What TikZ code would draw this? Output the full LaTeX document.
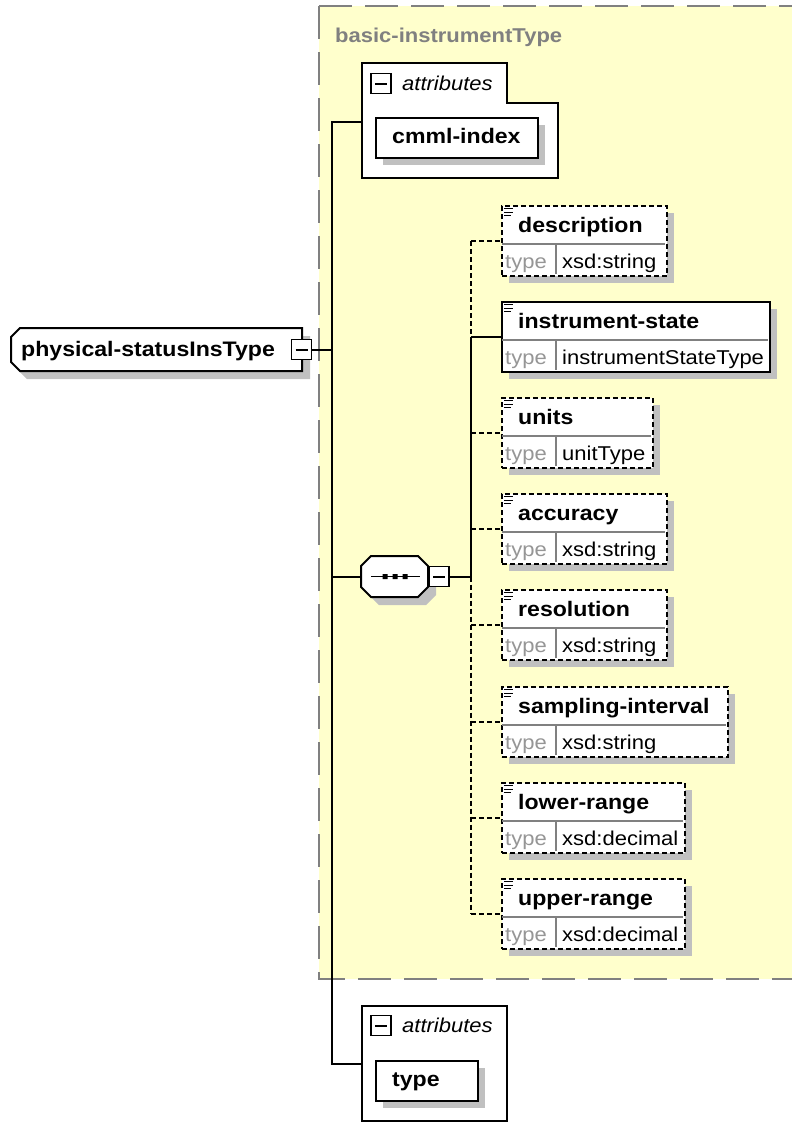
\documentclass[tikz,border=0pt]{standalone}
\usepackage{fontspec}
\setmainfont[FakeStretch=1.1]{Liberation Sans}
\usetikzlibrary{calc}
\definecolor{ylw}{RGB}{255,255,204}
\definecolor{shd}{RGB}{192,192,192}
\definecolor{dgray}{RGB}{128,128,128}
\definecolor{lgray}{RGB}{150,150,150}
\tikzset{
  box/.style={draw, line width=2pt, fill=white},
  conn/.style={line width=2pt},
  optconn/.style={line width=2pt, dash pattern=on 5pt off 3pt},
  opt/.style={dash pattern=on 5pt off 3pt},
  solidbox/.style={solid},
  nm/.style={font=\fontsize{21}{25}\selectfont\bfseries, inner sep=0, anchor=base west},
  tp/.style={font=\fontsize{20}{24}\selectfont, inner sep=0, anchor=base west},
  ttl/.style={font=\fontsize{20}{24}\selectfont\bfseries, text=dgray, inner sep=0, anchor=base west},
  attrtxt/.style={font=\fontsize{20}{24}\selectfont\itshape, inner sep=0, anchor=base west},
  expbox/.style={draw, fill=white, line width=1.8pt, minimum size=20pt, inner sep=0},
  minus/.style={line width=2pt},
}
% #1 id, #2 top y, #3 right x, #4 name, #5 type value, #6 border style
\newcommand\xelem[6]{%
  \fill[shd] (509,#2+8) rectangle (#3+8,#2+78);
  \node[box,#6,anchor=north west,minimum width=#3-501,minimum height=70,inner sep=0] (#1) at (501,#2) {};
  \draw[dgray,line width=1.4pt] (502,#2+39) -- (#3-1,#2+39) (556,#2+39) -- (556,#2+69);
  \draw[line width=0.9pt] (504,#2+3.5) -- (513,#2+3.5) (504,#2+7) -- (513,#2+7) (504,#2+10.5) -- (511,#2+10.5);
  \node[nm] (#1n) at (518,#2+27) {#4};
  \node[tp,text=lgray] (#1t) at (505,#2+63) {type};
  \node[tp] (#1v) at (562,#2+63) {#5};
}
\begin{document}
\begin{tikzpicture}[x=1pt,y=-1pt]
\useasboundingbox (0,0) rectangle (792,1122);
\fill[white] (0,0) rectangle (792,1122);
% yellow group
\fill[ylw] (319,6) rectangle (800,979);
\draw[dgray,line width=2pt,dash pattern=on 33pt off 13pt] (319,6) -- (800,6);
\draw[dgray,line width=2pt,dash pattern=on 33pt off 13pt] (319,6) -- (319,979) -- (800,979);
\node[ttl] (title) at (335,42) {basic-instrumentType};
% coordinates of trunks
\coordinate (trk) at (332,0);
\coordinate (strk) at (471,0);
\coordinate (a1) at (362,122);
\coordinate (a3) at (362,1064);
% root
\fill[shd] (27,336) -- (310,336) -- (310,379) -- (27,379) -- (19,371) -- (19,344) -- cycle;
\draw[box] (20,328) -- (302,328) -- (302,371) -- (20,371) -- (11,362) -- (11,337) -- cycle;
\node[nm] (root) at (21,356) {physical-statusInsType};
\node[expbox] (rootexp) at (301.5,349.5) {};
\draw[minus] ($(rootexp.center)+(-6,0)$) -- ($(rootexp.center)+(6,0)$);
% attributes 1
\draw[box] (362,63) -- (507,63) -- (507,103) -- (558,103) -- (558,178) -- (362,178) -- cycle;
\node[expbox] (col1) at (381,83.5) {};
\draw[minus] ($(col1.center)+(-6,0)$) -- ($(col1.center)+(6,0)$);
\node[attrtxt] (at1) at (402,90) {attributes};
\fill[shd] (383,125) rectangle (545,165);
\node[box,anchor=north west,minimum width=162,minimum height=40,inner sep=0] (cmml) at (375,117) {};
\node[nm] (cmmlt) at (392,143) {cmml-index};
% attributes 2
\draw[box] (362,1006) rectangle (507,1121);
\node[expbox] (col2) at (381,1025.5) {};
\draw[minus] ($(col2.center)+(-6,0)$) -- ($(col2.center)+(6,0)$);
\node[attrtxt] (at2) at (402,1032) {attributes};
\fill[shd] (383,1068) rectangle (485,1108);
\node[box,anchor=north west,minimum width=102,minimum height=40,inner sep=0] (typebox) at (375,1060) {};
\node[nm] (typet) at (392,1086) {type};
% sequence
\fill[shd] (379,564) -- (426,564) -- (436,574) -- (436,595) -- (426,605) -- (379,605) -- (369,595) -- (369,574) -- cycle;
\draw[box] (371,556) -- (418,556) -- (428,566) -- (428,587) -- (418,597) -- (371,597) -- (361,587) -- (361,566) -- cycle;
\node[inner sep=0,minimum width=67,minimum height=41] (seq) at (394.5,576.5) {};
\draw[line width=1.8pt] (371,576.5) -- (420,576.5);
\fill (382.5,574) rectangle (387.5,579) (392.5,574) rectangle (397.5,579) (402.5,574) rectangle (407.5,579);
\node[expbox] (seqexp) at (439,576.5) {};
\draw[minus] ($(seqexp.center)+(-6,0)$) -- ($(seqexp.center)+(6,0)$);
% elements
\xelem{e1}{205}{666}{description}{xsd:string}{opt}
\xelem{e2}{301}{769}{instrument-state}{instrumentStateType}{solidbox}
\xelem{e3}{397}{652}{units}{unitType}{opt}
\xelem{e4}{493}{666}{accuracy}{xsd:string}{opt}
\xelem{e5}{589}{666}{resolution}{xsd:string}{opt}
\xelem{e6}{686}{727}{sampling-interval}{xsd:string}{opt}
\xelem{e7}{782}{684}{lower-range}{xsd:decimal}{opt}
\xelem{e8}{878}{684}{upper-range}{xsd:decimal}{opt}
% connectors
\draw[conn] (rootexp.east) -- (rootexp.east -| trk);
\draw[conn] (a1) -- (a1 -| trk) -- (a3 -| trk) -- (a3);
\draw[conn] (seq.west -| trk) -- (seq.west);
\draw[conn] (seqexp.east) -- (seqexp.east -| strk);
\draw[optconn] (e1.west -| strk) -- (e2.west -| strk);
\draw[conn] (e2.west -| strk) -- (seqexp.east -| strk);
\draw[optconn] (seqexp.east -| strk) -- (e8.west -| strk);
\draw[optconn] (e1.west -| strk) -- (e1.west);
\draw[conn] (e2.west -| strk) -- (e2.west);
\draw[optconn] (e3.west -| strk) -- (e3.west);
\draw[optconn] (e4.west -| strk) -- (e4.west);
\draw[optconn] (e5.west -| strk) -- (e5.west);
\draw[optconn] (e6.west -| strk) -- (e6.west);
\draw[optconn] (e7.west -| strk) -- (e7.west);
\draw[optconn] (e8.west -| strk) -- (e8.west);
\end{tikzpicture}
\end{document}
